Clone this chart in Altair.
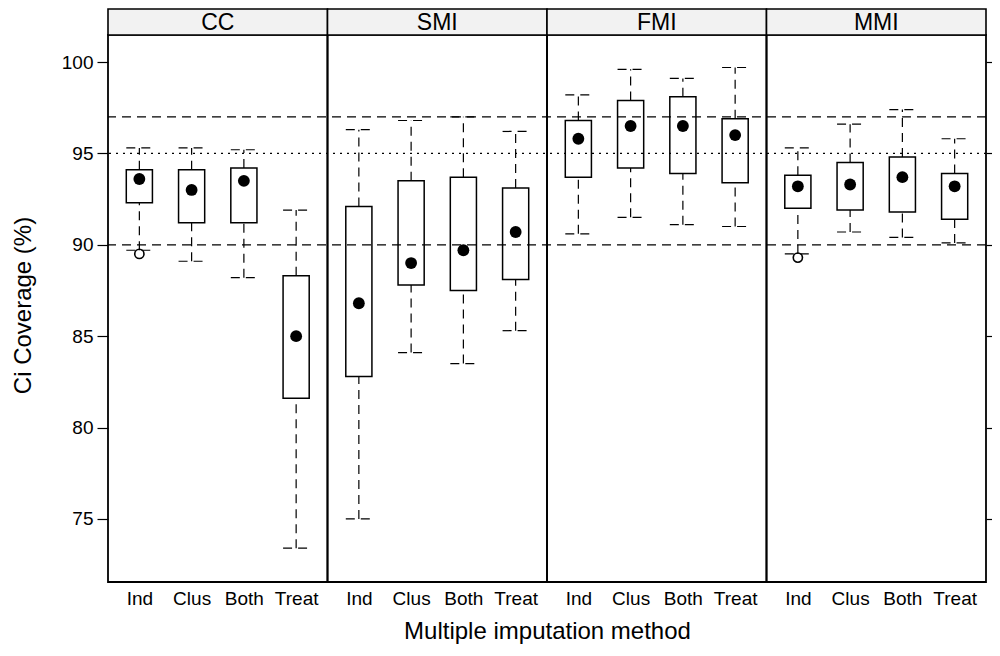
import altair as alt
import pandas as pd

# ---------------- data ----------------
methods = ["CC", "SMI", "FMI", "MMI"]
categories = ["Ind", "Clus", "Both", "Treat"]

lower_whisker = {"CC": [89.7, 89.1, 88.2, 73.4], "SMI": [75.0, 84.1, 83.5, 85.3],
                 "FMI": [90.6, 91.5, 91.1, 91.0], "MMI": [89.5, 90.7, 90.4, 90.1]}
lower_quartile = {"CC": [92.3, 91.2, 91.2, 81.6], "SMI": [82.8, 87.8, 87.5, 88.1],
                  "FMI": [93.7, 94.2, 93.9, 93.4], "MMI": [92.0, 91.9, 91.8, 91.4]}
median = {"CC": [93.6, 93.0, 93.5, 85.0], "SMI": [86.8, 89.0, 89.7, 90.7],
          "FMI": [95.8, 96.5, 96.5, 96.0], "MMI": [93.2, 93.3, 93.7, 93.2]}
upper_quartile = {"CC": [94.1, 94.1, 94.2, 88.3], "SMI": [92.1, 93.5, 93.7, 93.1],
                  "FMI": [96.8, 97.9, 98.1, 96.9], "MMI": [93.8, 94.5, 94.8, 93.9]}
upper_whisker = {"CC": [95.3, 95.3, 95.2, 91.9], "SMI": [96.3, 96.8, 97.0, 96.2],
                 "FMI": [98.2, 99.6, 99.1, 99.7], "MMI": [95.3, 96.6, 97.4, 95.8]}

outlier_method = ["CC", "MMI"]
outlier_category = ["Ind", "Ind"]
outlier_value = [89.5, 89.3]

ref_dashed = [90, 97]
ref_dotted = [95]
y_ticks = [75, 80, 85, 90, 95, 100]

# ---------------- layout helpers ----------------
PANEL = 4.2          # width of one panel in x units (lattice: 0.4 .. 4.6)
HALF = 0.25          # half box width
Y_MIN, Y_PANEL_TOP, Y_MAX = 71.55, 101.48, 102.90
FONT = "Liberation Sans"


def xpos(method, cat):
    return methods.index(method) * PANEL + categories.index(cat) + 0.6


rows = []
for m in methods:
    for i, c in enumerate(categories):
        x = xpos(m, c)
        rows.append(dict(method=m, cat=c, x=x, xl=x - HALF, xr=x + HALF,
                         lo=lower_whisker[m][i], q1=lower_quartile[m][i],
                         med=median[m][i], q3=upper_quartile[m][i],
                         hi=upper_whisker[m][i]))
boxes = pd.DataFrame(rows)

outliers = pd.DataFrame(dict(x=[xpos(m, c) for m, c in zip(outlier_method, outlier_category)],
                             v=outlier_value))

panels = pd.DataFrame(dict(method=methods,
                           x0=[i * PANEL for i in range(len(methods))],
                           x1=[(i + 1) * PANEL for i in range(len(methods))],
                           xc=[(i + 0.5) * PANEL for i in range(len(methods))],
                           ylo=Y_MIN, ytop=Y_PANEL_TOP, ymax=Y_MAX,
                           ymid=(Y_PANEL_TOP + Y_MAX) / 2))

refs_dashed = pd.DataFrame(dict(v=ref_dashed))
refs_dotted = pd.DataFrame(dict(v=ref_dotted))

tick_positions = [xpos(m, c) for m in methods for c in categories]
label_expr = ("['" + "','".join(categories) + "'][round(datum.value - "
              f"{PANEL}*floor(datum.value/{PANEL}) - 0.6)]")

xscale = alt.Scale(domain=[0, PANEL * len(methods)], nice=False, zero=False)
yscale = alt.Scale(domain=[Y_MIN, Y_MAX], nice=False, zero=False)

xaxis = alt.Axis(title="Multiple imputation method", values=tick_positions,
                 labelExpr=label_expr, ticks=False, tickSize=0, domain=False,
                 grid=False, labelFontSize=19, labelPadding=7, labelFont=FONT,
                 labelColor="black", titleFont=FONT, titleFontSize=24,
                 titleFontWeight="normal", titleColor="black", titlePadding=11,
                 labelFlush=False, labelOverlap=False)

yaxis_left = alt.Axis(title="Ci Coverage (%)", values=y_ticks, domain=False, grid=False,
                      tickSize=11, tickColor="black", tickWidth=1.2,
                      labelFontSize=19, labelFont=FONT, labelColor="black",
                      labelPadding=4, titleFont=FONT, titleFontSize=24,
                      titleFontWeight="normal", titleColor="black",
                      titleX=-85, titleY=296, titleBaseline="middle")
yaxis_right = alt.Axis(orient="right", values=y_ticks, domain=False, grid=False,
                       labels=False, tickSize=6, tickColor="black", tickWidth=1.2,
                       title=None)


def X(field):
    return alt.X(field, type="quantitative", scale=xscale, axis=xaxis)


def Y(field, axis=None):
    return alt.Y(field, type="quantitative", scale=yscale, axis=axis)


DASH = [9, 6]

strip_rect = alt.Chart(panels).mark_rect(fill="#f2f2f2", stroke="black", strokeWidth=1.6).encode(
    x=X("x0"), x2="x1", y=Y("ytop"), y2="ymax")
strip_text = alt.Chart(panels).mark_text(font=FONT, fontSize=23, baseline="middle",
                                         color="black", dy=1).encode(
    x=X("xc"), y=Y("ymid"), text="method:N")

ref1 = alt.Chart(refs_dashed).mark_rule(color="black", strokeWidth=1.2, strokeDash=DASH).encode(
    y=Y("v"))
ref2 = alt.Chart(refs_dotted).mark_rule(color="black", strokeWidth=1.2, strokeDash=[2, 5]).encode(
    y=Y("v"))

wh_up = alt.Chart(boxes).mark_rule(color="black", strokeWidth=1.2, strokeDash=DASH).encode(
    x=X("x"), y=Y("q3"), y2="hi")
wh_lo = alt.Chart(boxes).mark_rule(color="black", strokeWidth=1.2, strokeDash=DASH).encode(
    x=X("x"), y=Y("lo"), y2="q1")
cap_up = alt.Chart(boxes).mark_rule(color="black", strokeWidth=1.2, strokeDash=DASH).encode(
    x=X("xl"), x2="xr", y=Y("hi"))
cap_lo = alt.Chart(boxes).mark_rule(color="black", strokeWidth=1.2, strokeDash=DASH).encode(
    x=X("xl"), x2="xr", y=Y("lo"))
box = alt.Chart(boxes).mark_rect(fillOpacity=0, stroke="black", strokeWidth=1.5).encode(
    x=X("xl"), x2="xr", y=Y("q1", yaxis_left), y2="q3")
med = alt.Chart(boxes).mark_point(shape="circle", filled=True, size=140, color="black",
                                  opacity=1).encode(
    x=X("x"), y=Y("med", yaxis_right))
out = alt.Chart(outliers).mark_point(shape="circle", filled=False, size=85, color="black",
                                     strokeWidth=1.6, opacity=1).encode(
    x=X("x"), y=Y("v"))
frame = alt.Chart(panels).mark_rect(fillOpacity=0, stroke="black", strokeWidth=1.8).encode(
    x=X("x0"), x2="x1", y=Y("ylo"), y2="ytop")

chart = alt.layer(ref1, ref2, wh_up, wh_lo, cap_up, cap_lo, box, med, out, frame,
                  strip_rect, strip_text).resolve_scale(y="independent").properties(
    width=878, height=573,
    autosize=alt.AutoSizeParams(type="none"),
    padding={"left": 100, "top": 1, "right": 6, "bottom": 64},
    background="white",
).configure_view(stroke=None)

chart.save("out.html", embed_options={"renderer": "svg", "actions": False})
